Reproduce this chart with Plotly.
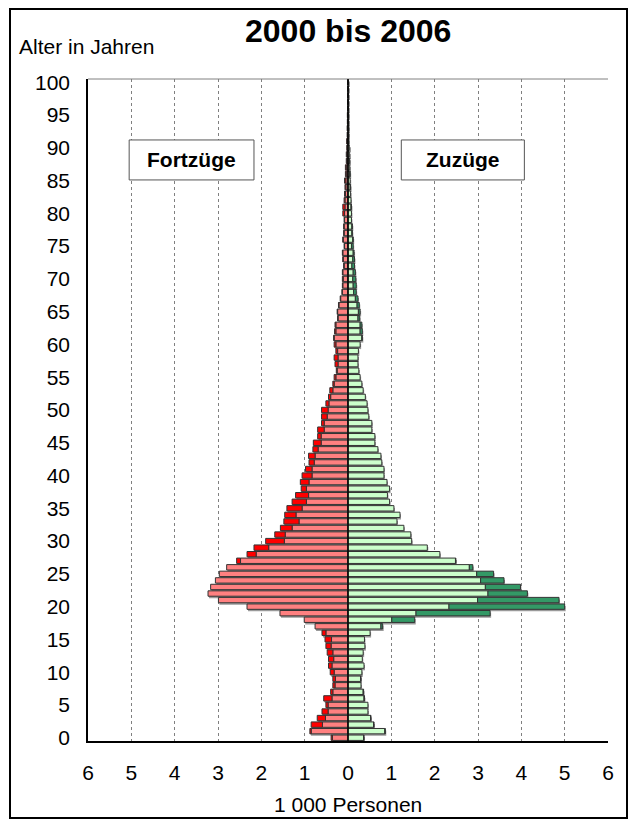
import plotly.graph_objects as go

# ---------------- data (1 000 Personen) ----------------
alter = list(range(0, 101))

# common (light) part, drawn on both sides
innen = [0.36, 0.85, 0.59, 0.52, 0.46, 0.46, 0.37, 0.35, 0.30, 0.29,
         0.32, 0.37, 0.33, 0.35, 0.39, 0.38, 0.51, 0.76, 1.01, 1.57,
         2.33, 2.99, 3.23, 3.17, 3.06, 2.97, 2.80, 2.48, 2.12, 1.83,
         1.47, 1.45, 1.29, 1.13, 1.20, 1.06, 0.96, 0.91, 0.96, 0.90,
         0.83, 0.83, 0.78, 0.76, 0.69, 0.62, 0.62, 0.55, 0.55, 0.48,
         0.46, 0.44, 0.40, 0.35, 0.32, 0.28, 0.25, 0.23, 0.23, 0.24,
         0.28, 0.32, 0.28, 0.28, 0.23, 0.24, 0.21, 0.17, 0.13, 0.12,
         0.11, 0.12, 0.09, 0.11, 0.12, 0.08, 0.11, 0.09, 0.09, 0.08,
         0.08, 0.07, 0.07, 0.06, 0.05, 0.05, 0.04, 0.04, 0.03, 0.03,
         0.03, 0.02, 0.02, 0.02, 0.015, 0.015, 0.01, 0.01, 0.005, 0.005,
         0.005]

# additional part of Fortzüge (dark red)
fortzug_zusatz = [0.03, 0.03, 0.26, 0.19, 0.14, 0.05, 0.19, 0.05, 0.05, 0.06,
                  0.09, 0.08, 0.12, 0.13, 0.12, 0.15, 0.09, 0.00, 0.00, 0.00,
                  0.00, 0.00, 0.00, 0.00, 0.00, 0.00, 0.00, 0.09, 0.21, 0.34,
                  0.43, 0.24, 0.27, 0.35, 0.26, 0.35, 0.33, 0.30, 0.12, 0.20,
                  0.23, 0.15, 0.12, 0.15, 0.12, 0.18, 0.08, 0.15, 0.06, 0.13,
                  0.15, 0.07, 0.05, 0.07, 0.03, 0.04, 0.02, 0.07, 0.09, 0.04,
                  0.04, 0.01, 0.03, 0.02, 0.01, 0.01, 0.01, 0.01, 0.01, 0.01,
                  0.02, 0.01, 0.01, 0.01, 0.01, 0.01, 0.01, 0.01, 0.01, 0.01,
                  0.04, 0.05, 0.02, 0.02, 0.02, 0.03, 0.02, 0.02, 0.01, 0.01,
                  0.00, 0.01, 0.00, 0.00, 0.00, 0.00, 0.00, 0.00, 0.00, 0.00,
                  0.00]

# additional part of Zuzüge (dark green)
zuzug_zusatz = [0.01, 0.01, 0.01, 0.01, 0.00, 0.00, 0.01, 0.01, 0.00, 0.01,
                0.00, 0.00, 0.00, 0.00, 0.00, 0.00, 0.00, 0.04, 0.53, 1.71,
                2.67, 1.88, 0.91, 0.81, 0.54, 0.39, 0.08, 0.01, 0.00, 0.00,
                0.00, 0.00, 0.00, 0.00, 0.00, 0.00, 0.00, 0.00, 0.00, 0.00,
                0.00, 0.00, 0.00, 0.00, 0.00, 0.00, 0.00, 0.00, 0.00, 0.00,
                0.00, 0.00, 0.00, 0.00, 0.00, 0.00, 0.00, 0.00, 0.00, 0.00,
                0.00, 0.01, 0.05, 0.04, 0.04, 0.04, 0.05, 0.06, 0.06, 0.07,
                0.07, 0.05, 0.06, 0.04, 0.02, 0.04, 0.01, 0.01, 0.01, 0.00,
                0.00, 0.01, 0.00, 0.00, 0.01, 0.00, 0.01, 0.00, 0.01, 0.00,
                0.00, 0.00, 0.00, 0.00, 0.00, 0.00, 0.00, 0.00, 0.00, 0.00,
                0.00]

x_ticks = [-6, -5, -4, -3, -2, -1, 0, 1, 2, 3, 4, 5, 6]
x_ticktext = ["6", "5", "4", "3", "2", "1", "0", "1", "2", "3", "4", "5", "6"]
y_ticks = list(range(0, 101, 5))

# ---------------- styling ----------------
FONT = "Arial, Liberation Sans, sans-serif"
C_LR, C_DR = "#FF8080", "#FF0000"
C_LG, C_DG = "#CCFFCC", "#339966"
C_OUT = "#333333"
C_SHADOW = "#9A9A9A"

def nz(v):
    return [x if x != 0 else None for x in v]

fort_total = [a + b for a, b in zip(innen, fortzug_zusatz)]
zuz_total = [a + b for a, b in zip(innen, zuzug_zusatz)]

fig = go.Figure()

# invisible trace on base axes so the grid/ticks exist
fig.add_trace(go.Scatter(x=[0], y=[0], mode="markers", marker=dict(opacity=0),
                         showlegend=False, hoverinfo="skip", xaxis="x", yaxis="y"))

# shadows
fig.add_trace(go.Bar(y=alter, x=[-v for v in fort_total], orientation="h",
                     marker=dict(color=C_SHADOW, line=dict(width=0)),
                     xaxis="x2", yaxis="y2", showlegend=False))
fig.add_trace(go.Bar(y=alter, x=zuz_total, orientation="h",
                     marker=dict(color=C_SHADOW, line=dict(width=0)),
                     xaxis="x2", yaxis="y2", showlegend=False))

# main bars
fig.add_trace(go.Bar(y=alter, x=[-v for v in innen], orientation="h", name="Fortzüge",
                     marker=dict(color=C_LR, line=dict(color=C_OUT, width=1)),
                     xaxis="x3", yaxis="y3", showlegend=False))
fig.add_trace(go.Bar(y=alter, x=[(-v if v is not None else None) for v in nz(fortzug_zusatz)],
                     orientation="h", name="Fortzüge (zus.)",
                     marker=dict(color=C_DR, line=dict(color=C_OUT, width=1)),
                     xaxis="x3", yaxis="y3", showlegend=False))
fig.add_trace(go.Bar(y=alter, x=innen, orientation="h", name="Zuzüge",
                     marker=dict(color=C_LG, line=dict(color=C_OUT, width=1)),
                     xaxis="x3", yaxis="y3", showlegend=False))
fig.add_trace(go.Bar(y=alter, x=nz(zuzug_zusatz), orientation="h", name="Zuzüge (zus.)",
                     marker=dict(color=C_DG, line=dict(color=C_OUT, width=1)),
                     xaxis="x3", yaxis="y3", showlegend=False))

XR = [-6, 6]
YR = [-0.5, 100.5]
dy = 2.0 / 6.556   # shadow 2 px down
dx = 1.0 / 43.33   # shadow 1 px right

hidden = dict(visible=False, showgrid=False, zeroline=False, fixedrange=True)

fig.update_layout(
    width=637, height=830,
    margin=dict(l=80, r=37, t=71, b=97),
    paper_bgcolor="white", plot_bgcolor="white",
    barmode="relative", bargap=0.18,
    font=dict(family=FONT, size=21, color="black"),
    xaxis=dict(range=XR, tickvals=x_ticks, ticktext=x_ticktext,
               showgrid=True, gridcolor="#808080", gridwidth=1, griddash="3px,3px",
               zeroline=False, showline=True, linecolor="black", linewidth=1.5,
               ticks="", ticklabelstandoff=12, tickfont=dict(size=21)),
    yaxis=dict(range=YR, tickvals=y_ticks, showgrid=False, zeroline=False,
               showline=True, linecolor="black", linewidth=1.5,
               ticks="", ticklabelstandoff=12, tickfont=dict(size=21)),
    xaxis2=dict(range=[XR[0] - dx, XR[1] - dx], overlaying="x", **hidden),
    yaxis2=dict(range=[YR[0] + dy, YR[1] + dy], overlaying="y", **hidden),
    xaxis3=dict(range=XR, overlaying="x", **hidden),
    yaxis3=dict(range=YR, overlaying="y", **hidden),
)

shapes = [
    # plot area border (top)
    dict(type="line", xref="paper", yref="paper", x0=0, x1=1, y0=1, y1=1,
         line=dict(color="#808080", width=1)),
    # zero line
    dict(type="line", xref="x", yref="paper", x0=0, x1=0, y0=0, y1=1,
         line=dict(color="black", width=1.5), layer="above"),
    # outer frame
    dict(type="rect", xref="paper", yref="paper",
         x0=(10 - 88) / 520, x1=(627 - 88) / 520,
         y0=-(818 - 741) / 662, y1=1 + (79 - 9) / 662,
         line=dict(color="black", width=2)),
    # label boxes
    dict(type="rect", xref="x", yref="y", x0=-5.05, x1=-2.17, y0=85.1, y1=91.2,
         fillcolor="white", line=dict(color="#555555", width=1), layer="above"),
    dict(type="rect", xref="x", yref="y", x0=1.23, x1=4.07, y0=85.1, y1=91.2,
         fillcolor="white", line=dict(color="#555555", width=1), layer="above"),
]
fig.update_layout(shapes=shapes)

annotations = [
    dict(text="<b>2000 bis 2006</b>", xref="paper", yref="paper",
         x=0.5, y=1 + (79 - 31) / 662, xanchor="center", yanchor="middle",
         showarrow=False, font=dict(size=32)),
    dict(text="Alter in Jahren", xref="paper", yref="paper",
         x=(17 - 88) / 520, y=1 + (79 - 47) / 662, xanchor="left", yanchor="middle",
         showarrow=False, font=dict(size=21)),
    dict(text="1 000 Personen", xref="paper", yref="paper",
         x=0.5, y=-(804 - 741) / 662, xanchor="center", yanchor="middle",
         showarrow=False, font=dict(size=21)),
    dict(text="<b>Fortzüge</b>", xref="x", yref="y", x=-3.61, y=88.15,
         xanchor="center", yanchor="middle", showarrow=False, font=dict(size=21)),
    dict(text="<b>Zuzüge</b>", xref="x", yref="y", x=2.65, y=88.15,
         xanchor="center", yanchor="middle", showarrow=False, font=dict(size=21)),
]
fig.update_layout(annotations=annotations)

fig.write_html("out.html")
